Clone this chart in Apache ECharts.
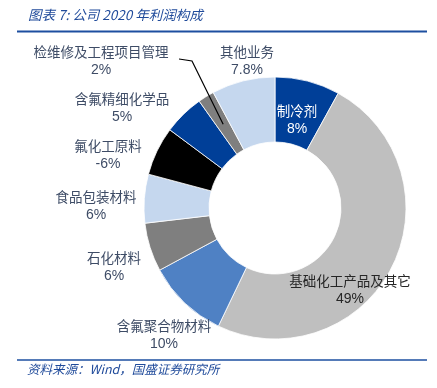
<!DOCTYPE html>
<html><head><meta charset="utf-8">
<script src="https://cdn.jsdelivr.net/npm/echarts@6/dist/echarts.min.js"></script>
<style>html,body{margin:0;padding:0;background:#fff}#c{width:437px;height:388px}</style>
</head><body><div id="c"></div>
<script>
// Data
const categories = ['制冷剂','基础化工产品及其它','含氟聚合物材料','石化材料','食品包装材料','氟化工原料','含氟精细化学品','检维修及工程项目管理','其他业务'];
const values = [8, 49, 10, 6, 6, -6, 5, 2, 7.8];
const titleText = '图表 7: 公司 2020 年利润构成';
const sourceText = '资料来源：Wind，国盛证券研究所';

// Layout / style (kept separate from data)
const colors = ['#003F98','#BFBFBF','#4F81C4','#7F7F7F','#C5D7EE','#000000','#003F98','#7F7F7F','#C5D7EE'];
const labelPos = [[297,120],[350,290],[164,335],[114,267],[96,206],[108,155],[122,108],[101,61],[247,61]];
const labelColor = ['#FFFFFF','#262626','#3E4C66','#3E4C66','#3E4C66','#3E4C66','#3E4C66','#3E4C66','#3E4C66'];
const CX = 275, CY = 208, R0 = 66, R1 = 131;
const cjk = '"Noto Sans CJK SC", sans-serif';

const chart = echarts.init(document.getElementById('c'), null, {renderer:'canvas'});

const data = categories.map((n, i) => ({
  name: n,
  value: Math.abs(values[i]),
  itemStyle: {color: colors[i]},
  label: {
    formatter: '{n|' + n + '}\n{v|' + values[i] + '%}',
    rich: {
      n: {fontFamily: cjk, fontSize: 13.5, color: labelColor[i], lineHeight: 19, align: 'center'},
      v: {fontFamily: '"Liberation Sans", sans-serif', fontSize: 14, color: labelColor[i], lineHeight: 19, align: 'center'}
    }
  }
}));

// Leader line end for 检维修 slice: mid-angle, mid-radius
const total = data.reduce((s, d) => s + d.value, 0);
let cum = 0;
for (let i = 0; i < 7; i++) cum += data[i].value;
const midFrac = (cum + data[7].value / 2) / total;
const ang = midFrac * 2 * Math.PI;
const rm = (R0 + R1) / 2;
const ex = CX + rm * Math.sin(ang), ey = CY - rm * Math.cos(ang);

chart.setOption({
  animation: false,
  title: [
    {text: titleText, left: 23, top: 3, textStyle: {fontFamily: cjk, fontStyle: 'italic', fontWeight: 'normal', fontSize: 13.5, color: '#1F4A9A'}},
    {text: sourceText, left: 22, top: 358, textStyle: {fontFamily: cjk, fontStyle: 'italic', fontWeight: 'normal', fontSize: 12.5, color: '#1F4A9A'}}
  ],
  graphic: [
    {type: 'line', shape: {x1: 17, y1: 31.5, x2: 427, y2: 31.5}, style: {stroke: '#1D4FA0', lineWidth: 2}},
    {type: 'line', shape: {x1: 17, y1: 360, x2: 427, y2: 360}, style: {stroke: '#1D4FA0', lineWidth: 1.5}},
    {type: 'polyline', z: 100, shape: {points: [[179, 59], [192, 61], [ex, ey]]}, style: {stroke: '#000', lineWidth: 1.2, fill: null}}
  ],
  series: [{
    type: 'pie',
    center: [CX, CY],
    radius: [R0, R1],
    startAngle: 90,
    clockwise: true,
    avoidLabelOverlap: false,
    itemStyle: {borderColor: '#fff', borderWidth: 0.8},
    label: {show: true, position: 'outside'},
    labelLine: {show: false},
    emphasis: {disabled: true},
    labelLayout: function (p) {
      const pos = labelPos[p.dataIndex];
      return {x: pos[0], y: pos[1], align: 'center', verticalAlign: 'middle'};
    },
    data: data
  }]
});
</script>
</body></html>
